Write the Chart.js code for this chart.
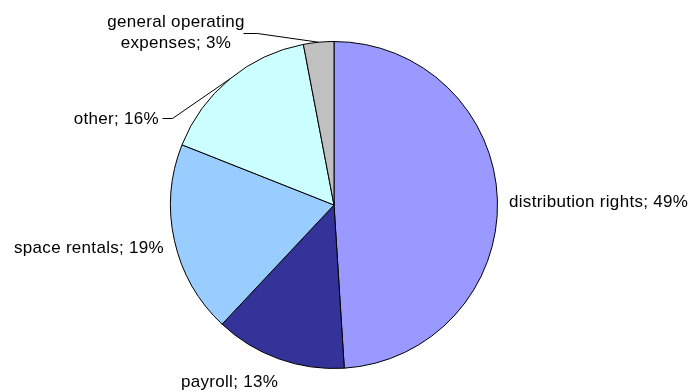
<!DOCTYPE html>
<html lang="en">
<head>
    <meta charset="UTF-8">
    <title>Expense breakdown</title>
    <style>
        html, body { margin: 0; padding: 0; background: #fff; }
        #wrap { width: 692px; height: 392px; }
    </style>
    <script src="https://cdn.jsdelivr.net/npm/chart.js"></script>
</head>
<body>
<div id="wrap"><canvas id="pie" width="692" height="392"></canvas></div>

<script>
    // slices, clockwise from 12 o'clock
    const categories = ['distribution rights', 'payroll', 'space rentals', 'other', 'general operating expenses'];
    const shares = [49, 13, 19, 16, 3];
    const colors = ['#9999ff', '#333399', '#99ccff', '#ccffff', '#c0c0c0'];

    // where each label sits, relative to the pie centre (baseline of each text line)
    const labelLayout = [
        { align: 'left', dx: 175, dy: [2] },
        { align: 'left', dx: -153, dy: [182] },
        { align: 'right', dx: -170, dy: [48] },
        { align: 'right', dx: -175, dy: [-81], leader: [[-172, -87], [-162, -87]] },
        { align: 'center', dx: -158, dy: [-178, -157], breakAfter: 2, leader: [[-91, -172], [-77, -172]] }
    ];

    const sliceLabels = {
        id: 'sliceLabels',
        afterDraw(chart) {
            const ctx = chart.ctx;
            const arcs = chart.getDatasetMeta(0).data;
            ctx.save();
            ctx.font = '17px "Liberation Sans", Arial, sans-serif';
            if ('letterSpacing' in ctx) ctx.letterSpacing = '0.3px';
            ctx.fillStyle = '#000';
            ctx.strokeStyle = '#000';
            ctx.lineWidth = 1;
            ctx.textBaseline = 'alphabetic';

            arcs.forEach((arc, i) => {
                const lay = labelLayout[i];
                const cx = arc.x, cy = arc.y;
                let text = categories[i] + '; ' + shares[i] + '%';
                let lines = [text];
                if (lay.breakAfter) {
                    const words = text.split(' ');
                    lines = [words.slice(0, lay.breakAfter).join(' '), words.slice(lay.breakAfter).join(' ')];
                }
                ctx.textAlign = lay.align;
                lines.forEach((ln, k) => ctx.fillText(ln, cx + lay.dx, cy + lay.dy[k]));

                if (lay.leader) {
                    const mid = (arc.startAngle + arc.endAngle) / 2;
                    const r = arc.outerRadius;
                    ctx.beginPath();
                    ctx.moveTo(cx + lay.leader[0][0] + 0.5, cy + lay.leader[0][1] + 0.5);
                    ctx.lineTo(cx + lay.leader[1][0] + 0.5, cy + lay.leader[1][1] + 0.5);
                    ctx.lineTo(cx + Math.cos(mid) * r, cy + Math.sin(mid) * r);
                    ctx.stroke();
                }
            });
            ctx.restore();
        }
    };

    new Chart(document.getElementById('pie'), {
        type: 'pie',
        data: {
            labels: categories,
            datasets: [{
                data: shares,
                backgroundColor: colors,
                borderColor: '#000',
                borderWidth: 1
            }]
        },
        options: {
            responsive: false,
            animation: false,
            layout: { padding: { left: 170, right: 194, top: 41, bottom: 23 } },
            plugins: {
                legend: { display: false },
                tooltip: { enabled: false }
            }
        },
        plugins: [sliceLabels]
    });
</script>
</body>
</html>
